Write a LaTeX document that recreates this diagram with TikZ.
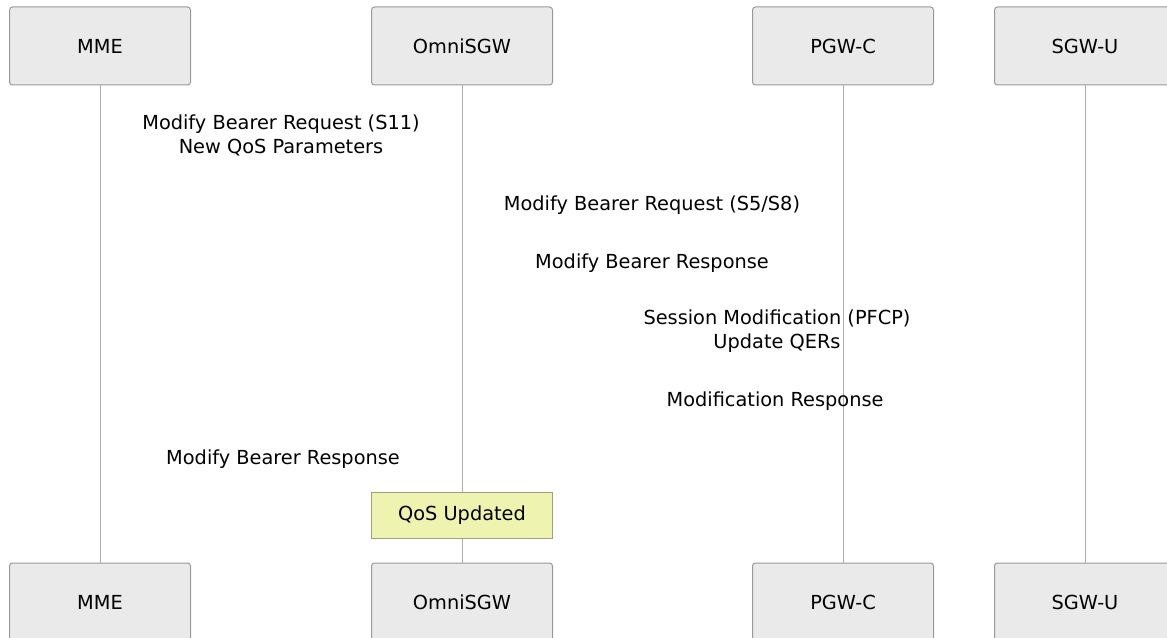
\documentclass[tikz,border=0pt]{standalone}
\usepackage{fontspec}
\setmainfont{DejaVu Sans}
\usepackage{xcolor}
\usetikzlibrary{positioning}

\definecolor{actorfill}{HTML}{EAEAEA}
\definecolor{actorline}{HTML}{999999}
\definecolor{notefill}{HTML}{EEF3B0}
\definecolor{noteline}{HTML}{A0A080}

\begin{document}
\begin{tikzpicture}[
    % GLOBAL CFG
    x=0.75pt, y=-0.75pt,
    font=\fontsize{14.5}{18}\selectfont,
    % Styles
    actor/.style={% For the participant boxes
        rectangle,
        rounded corners=2.25pt,
        draw=actorline,
        fill=actorfill,
        line width=0.75pt,
        minimum width=135.75pt,
        minimum height=58.5pt,
        },
    note/.style={% For the note on the lifeline
        rectangle,
        draw=noteline,
        fill=notefill,
        line width=0.75pt,
        minimum width=135.75pt,
        minimum height=34.5pt,
        },
    lifeline/.style={% Vertical lines
        draw=actorline!80,
        line width=0.6pt,
        },
    msg/.style={% Message texts
        align=center,
        inner sep=0pt,
        },
    ]

\useasboundingbox (0,0) rectangle (1167,638);

    % Draw participants on top named mme, sgw, pgw, upf
    \node [actor] (mme) at (100,46) {MME};
    \node [actor] (sgw) at (462,46) {OmniSGW};
    \node [actor] (pgw) at (843,46) {PGW-C};
    \node [actor] (upf) at (1085,46) {SGW-U};

    % Draw participants at the bottom named mme2, sgw2, pgw2, upf2
    \node [actor] (mme2) at (100,602) {MME};
    \node [actor] (sgw2) at (462,602) {OmniSGW};
    \node [actor] (pgw2) at (843,602) {PGW-C};
    \node [actor] (upf2) at (1085,602) {SGW-U};

    % Lifelines
    \draw [lifeline] (mme) -- (mme2);
    \draw [lifeline] (sgw) -- (sgw2);
    \draw [lifeline] (pgw) -- (pgw2);
    \draw [lifeline] (upf) -- (upf2);

    % Messages
    \node [msg] (m1) at (281,135) {Modify Bearer Request (S11)\\New QoS Parameters};
    \node [msg] (m2) at (652,205) {Modify Bearer Request (S5/S8)};
    \node [msg] (m3) at (652,263) {Modify Bearer Response};
    \node [msg] (m4) at (777,331) {Session Modification (PFCP)\\Update QERs};
    \node [msg] (m5) at (775,401) {Modification Response};
    \node [msg] (m6) at (283,459) {Modify Bearer Response};

    % Note
    \node [note] (qos) at (462,515) {QoS Updated};

\end{tikzpicture}
\end{document}
